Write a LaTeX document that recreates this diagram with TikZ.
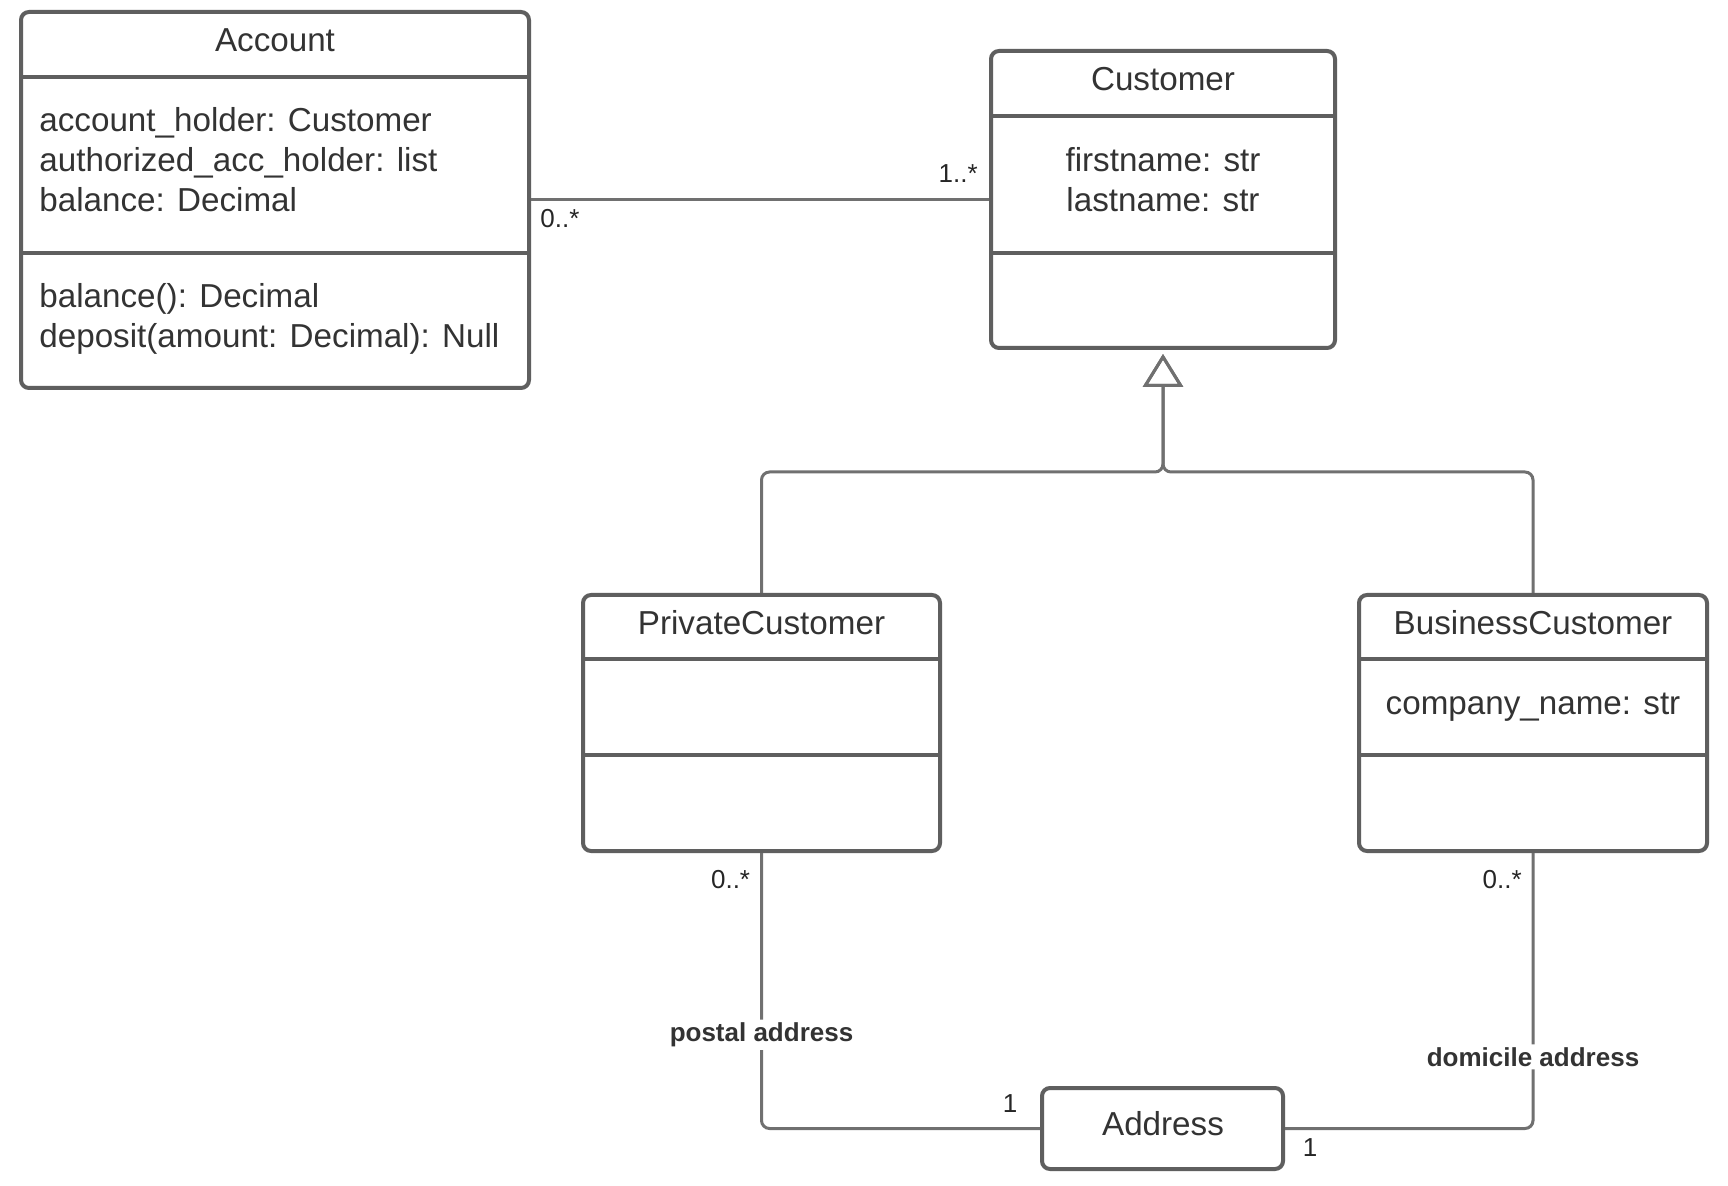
\documentclass[tikz,border=0pt]{standalone}
\usepackage{fontspec}
\setmainfont{Liberation Sans}
\usetikzlibrary{arrows.meta, positioning, calc}
\definecolor{umlline}{RGB}{95,95,95}
\definecolor{umltext}{RGB}{51,51,51}
\definecolor{linkline}{RGB}{112,112,112}

\begin{document}
\begin{tikzpicture}[
    x=0.5pt, y=-0.5pt, % 1单位 = 原图1像素
    every node/.style={font=\fontsize{16.6}{20}\selectfont, text=umltext}, % 统一字体
    classbox/.style={draw=umlline, line width=2pt, rounded corners=4pt, inner sep=0pt}, % 类框(圆角粗线)
    divider/.style={umlline, line width=2pt}, % 分隔线
    assoc/.style={linkline, line width=1.5pt, rounded corners=4pt}, % 关联线
    gen/.style={assoc, -{Triangle[open, length=16.5pt, width=20pt]}}, % 继承(空心三角)
    mult/.style={font=\fontsize{13}{15}\selectfont, text=black!85, inner sep=0pt}, % 多重性
    rolelabel/.style={font=\bfseries\fontsize{13}{15}\selectfont, fill=white, inner sep=1.5pt} % 角色名
]
    \useasboundingbox[fill=white] (0,0) rectangle (1728,1186);

    % 1. Account 类
    \node[classbox, minimum width=254pt, minimum height=188pt] (account) at (275,200) {};
    \draw[divider] ($(account.north west)+(0,67)$) -- ($(account.north east)+(0,67)$);
    \draw[divider] ($(account.north west)+(0,243)$) -- ($(account.north east)+(0,243)$);
    \node (accounttitle) at (275,40) {Account};
    \node[anchor=west, align=left, inner sep=0pt] (accountattr) at (39,160) {account\_holder: Customer\\authorized\_acc\_holder: list\\balance: Decimal};
    \node[anchor=west, align=left, inner sep=0pt] (accountops) at (39,319) {balance(): Decimal\\deposit(amount: Decimal): Null};

    % 2. Customer 类
    \node[classbox, minimum width=172pt, minimum height=148.5pt] (customer) at (1163,199.5) {};
    \draw[divider] ($(customer.north west)+(0,67)$) -- ($(customer.north east)+(0,67)$);
    \draw[divider] ($(customer.north west)+(0,204)$) -- ($(customer.north east)+(0,204)$);
    \node (customertitle) at (1163,79) {Customer};
    \node[align=center] (customerattr) at (1163,180) {firstname: str\\lastname: str};

    % 3. 子类 PrivateCustomer / BusinessCustomer
    \node[classbox, minimum width=178.5pt, minimum height=128pt] (privatecust) at (761.5,723) {};
    \draw[divider] ($(privatecust.north west)+(0,66)$) -- ($(privatecust.north east)+(0,66)$);
    \draw[divider] ($(privatecust.north west)+(0,162)$) -- ($(privatecust.north east)+(0,162)$);
    \node (privatetitle) at (761.5,623) {PrivateCustomer};

    \node[classbox, minimum width=174pt, minimum height=128pt] (businesscust) at (1533,723) {};
    \draw[divider] ($(businesscust.north west)+(0,66)$) -- ($(businesscust.north east)+(0,66)$);
    \draw[divider] ($(businesscust.north west)+(0,162)$) -- ($(businesscust.north east)+(0,162)$);
    \node (businesstitle) at (1533,623) {BusinessCustomer};
    \node (businessattr) at (1533,707) {company\_name: str};

    % 4. Address 类
    \node[classbox, minimum width=120.5pt, minimum height=40.5pt] (address) at (1162.5,1128.5) {};
    \node (addresstitle) at (1163,1124) {Address};

    % 5. Account -- Customer 关联
    \draw[assoc] (account.east) -- (account.east -| customer.west);
    \node[mult, anchor=west] (accmult) at ([shift={(4.5pt,-9.5pt)}]account.east) {0..*};
    \node[mult, anchor=east] (custmult) at ([shift={(-5.5pt,13pt)}]customer.west) {1..*};

    % 6. 继承:两个子类汇合到 Customer
    \coordinate (genbar) at (1163,472);
    \draw[gen] (privatecust.north) |- (genbar) -- ([yshift=-2pt]customer.south);
    \draw[gen] (businesscust.north) |- (genbar) -- ([yshift=-2pt]customer.south);

    % 7. 地址关联
    \draw[assoc] (privatecust.south) |- node[rolelabel, pos=0.33] (postal) {postal address} (address.west);
    \draw[assoc] (businesscust.south) |- node[rolelabel, pos=0.37] (domicile) {domicile address} (address.east);
    \node[mult, anchor=east] (privmult) at ([shift={(-5.5pt,-13.5pt)}]privatecust.south) {0..*};
    \node[mult, anchor=east] (busmult) at ([shift={(-5.5pt,-13.5pt)}]businesscust.south) {0..*};
    \node[mult] (addrmultl) at ([shift={(-15pt,12.7pt)}]address.west) {1};
    \node[mult] (addrmultr) at ([shift={(12.5pt,-9.3pt)}]address.east) {1};

\end{tikzpicture}
\end{document}
